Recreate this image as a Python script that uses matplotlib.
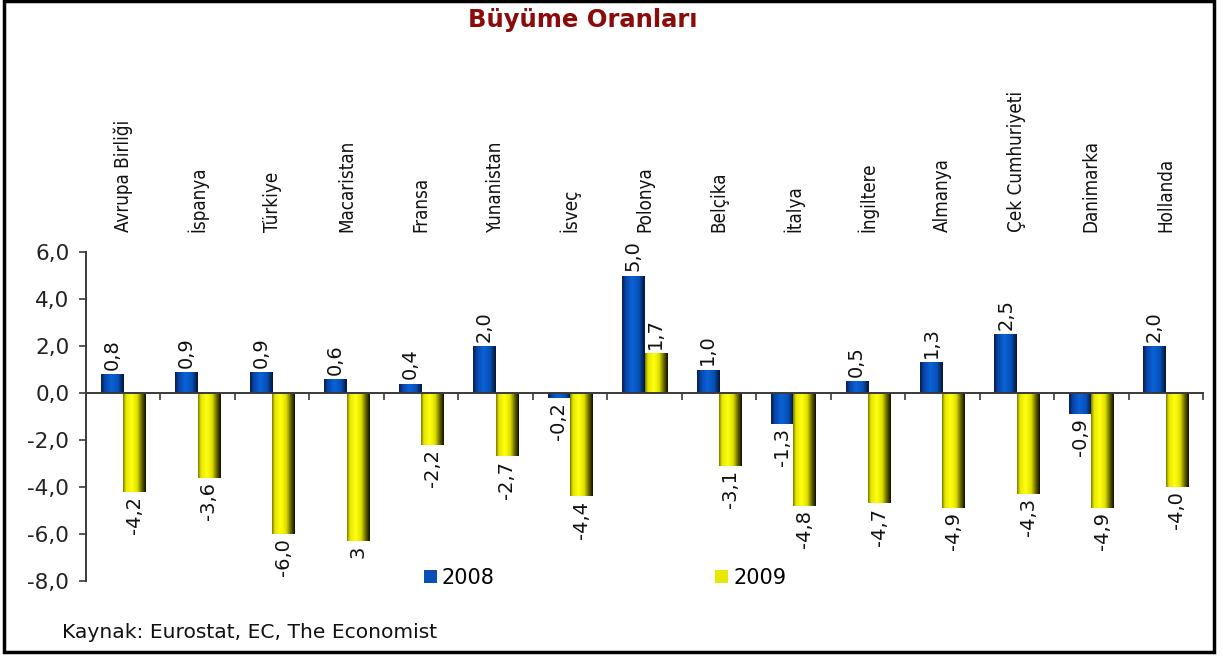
import numpy as np
import matplotlib
matplotlib.use("Agg")
import matplotlib.pyplot as plt
from matplotlib.colors import LinearSegmentedColormap
from matplotlib.patches import Patch, Rectangle
from matplotlib.ticker import FuncFormatter

categories = ["Avrupa Birliği", "İspanya", "Türkiye", "Macaristan", "Fransa",
              "Yunanistan", "İsveç", "Polonya", "Belçika", "İtalya",
              "İngiltere", "Almanya", "Çek Cumhuriyeti", "Danimarka", "Hollanda"]
values_2008 = [0.8, 0.9, 0.9, 0.6, 0.4, 2.0, -0.2, 5.0, 1.0, -1.3, 0.5, 1.3, 2.5, -0.9, 2.0]
values_2009 = [-4.2, -3.6, -6.0, -6.3, -2.2, -2.7, -4.4, 1.7, -3.1, -4.8, -4.7, -4.9, -4.3, -4.9, -4.0]
labels_2008 = ["0,8", "0,9", "0,9", "0,6", "0,4", "2,0", "-0,2", "5,0", "1,0", "-1,3", "0,5", "1,3", "2,5", "-0,9", "2,0"]
labels_2009 = ["-4,2", "-3,6", "-6,0", "3", "-2,2", "-2,7", "-4,4", "1,7", "-3,1", "-4,8", "-4,7", "-4,9", "-4,3", "-4,9", "-4,0"]
series_names = ["2008", "2009"]
y_ticks = [-8, -6, -4, -2, 0, 2, 4, 6]

plt.rcParams['font.family'] = ['DejaVu Sans']

W, H = 1223, 659
fig = plt.figure(figsize=(W / 100, H / 100), dpi=100)
ax = fig.add_axes([86 / W, 1 - 581 / H, (1203 - 86) / W, 329 / H])

blue_cmap = LinearSegmentedColormap.from_list("b", [(0, "#0b1d44"), (0.15, "#0843a8"), (0.45, "#0a63d6"),
                                                   (0.75, "#0650b8"), (1.0, "#061533")])
yel_cmap = LinearSegmentedColormap.from_list("y", [(0, "#7a7a00"), (0.12, "#e6e600"), (0.38, "#ffff10"),
                                                  (0.62, "#e0e000"), (0.82, "#6a6a00"), (1.0, "#0e0e00")])

x = np.arange(len(categories)) + 0.5
w = 0.3
b1 = ax.bar(x - w / 2, values_2008, width=w, color="#0a5bc8", zorder=2)
b2 = ax.bar(x + w / 2, values_2009, width=w, color="#f0f000", zorder=2)

grad = np.linspace(0, 1, 64)[np.newaxis, :]
for bars, cmap in ((b1, blue_cmap), (b2, yel_cmap)):
    for r in bars:
        x0, y0, ww, hh = r.get_x(), r.get_y(), r.get_width(), r.get_height()
        im = ax.imshow(grad, extent=[x0, x0 + ww, min(y0, y0 + hh), max(y0, y0 + hh)],
                       cmap=cmap, aspect='auto', zorder=2.5, interpolation='bilinear')
        im.set_clip_path(r)

ax.set_xlim(0, len(categories))
ax.set_ylim(-8, 6)

# data labels
for bars, vals, labs in ((b1, values_2008, labels_2008), (b2, values_2009, labels_2009)):
    for r, v, lab in zip(bars, vals, labs):
        cx = r.get_x() + r.get_width() / 2
        if v >= 0:
            ax.annotate(lab, (cx, v), xytext=(0, 3), textcoords="offset points",
                        rotation=90, ha="center", va="bottom", fontsize=14, color="#111111", zorder=4)
        else:
            ax.annotate(lab, (cx, v), xytext=(0, -3), textcoords="offset points",
                        rotation=90, ha="center", va="top", fontsize=14, color="#111111", zorder=4)

# category labels on top
for xi, name in zip(x, categories):
    ax.text(xi, (581 - 232) / 329, name, transform=ax.get_xaxis_transform(),
            rotation=90, ha="center", va="bottom", fontsize=13.5, fontstretch="condensed",
            color="#111111")

# axes styling
for s in ("top", "right"):
    ax.spines[s].set_visible(False)
ax.spines["bottom"].set_position(("data", 0))
ax.spines["bottom"].set_color("#3a3a3a")
ax.spines["left"].set_color("#3a3a3a")
ax.spines["bottom"].set_linewidth(1.4)
ax.spines["left"].set_linewidth(1.4)
ax.spines["bottom"].set_zorder(3)
ax.set_xticks(np.arange(len(categories) + 1))
ax.set_xticklabels([])
ax.tick_params(axis="x", direction="out", length=5, width=1.2, color="#3a3a3a")
ax.set_yticks(y_ticks)
ax.yaxis.set_major_formatter(FuncFormatter(lambda v, p: f"{v:.1f}".replace(".", ",")))
ax.tick_params(axis="y", direction="out", length=5, width=1.2, color="#3a3a3a",
               labelsize=15.5, pad=7, labelcolor="#222222")

# legend
handles = [Patch(facecolor="#0a4fb5", edgecolor="none"), Patch(facecolor="#e8e800", edgecolor="none")]
fig.legend(handles, series_names, loc="center left", bbox_to_anchor=(424 / W, 1 - 578 / H),
           ncol=2, frameon=False, fontsize=15, handlelength=0.6, handleheight=0.6,
           handletextpad=0.25, columnspacing=10.6, borderpad=0, borderaxespad=0)

# title and source
fig.text(583 / W, 1 - 20 / H, "Büyüme Oranları", ha="center", va="center",
         fontsize=17.5, fontweight="bold", color="#8b0a0a")
fig.text(62 / W, 1 - 633 / H, "Kaynak: Eurostat, EC, The Economist", ha="left", va="center",
         fontsize=14.6, color="#111111")

# outer border
fig.patches.append(Rectangle((4 / W, 1 - 652 / H), (1214 - 4) / W, (652 - 1) / H,
                             transform=fig.transFigure, fill=False, edgecolor="black", linewidth=2.5))

fig.savefig("out.png", dpi=100)
